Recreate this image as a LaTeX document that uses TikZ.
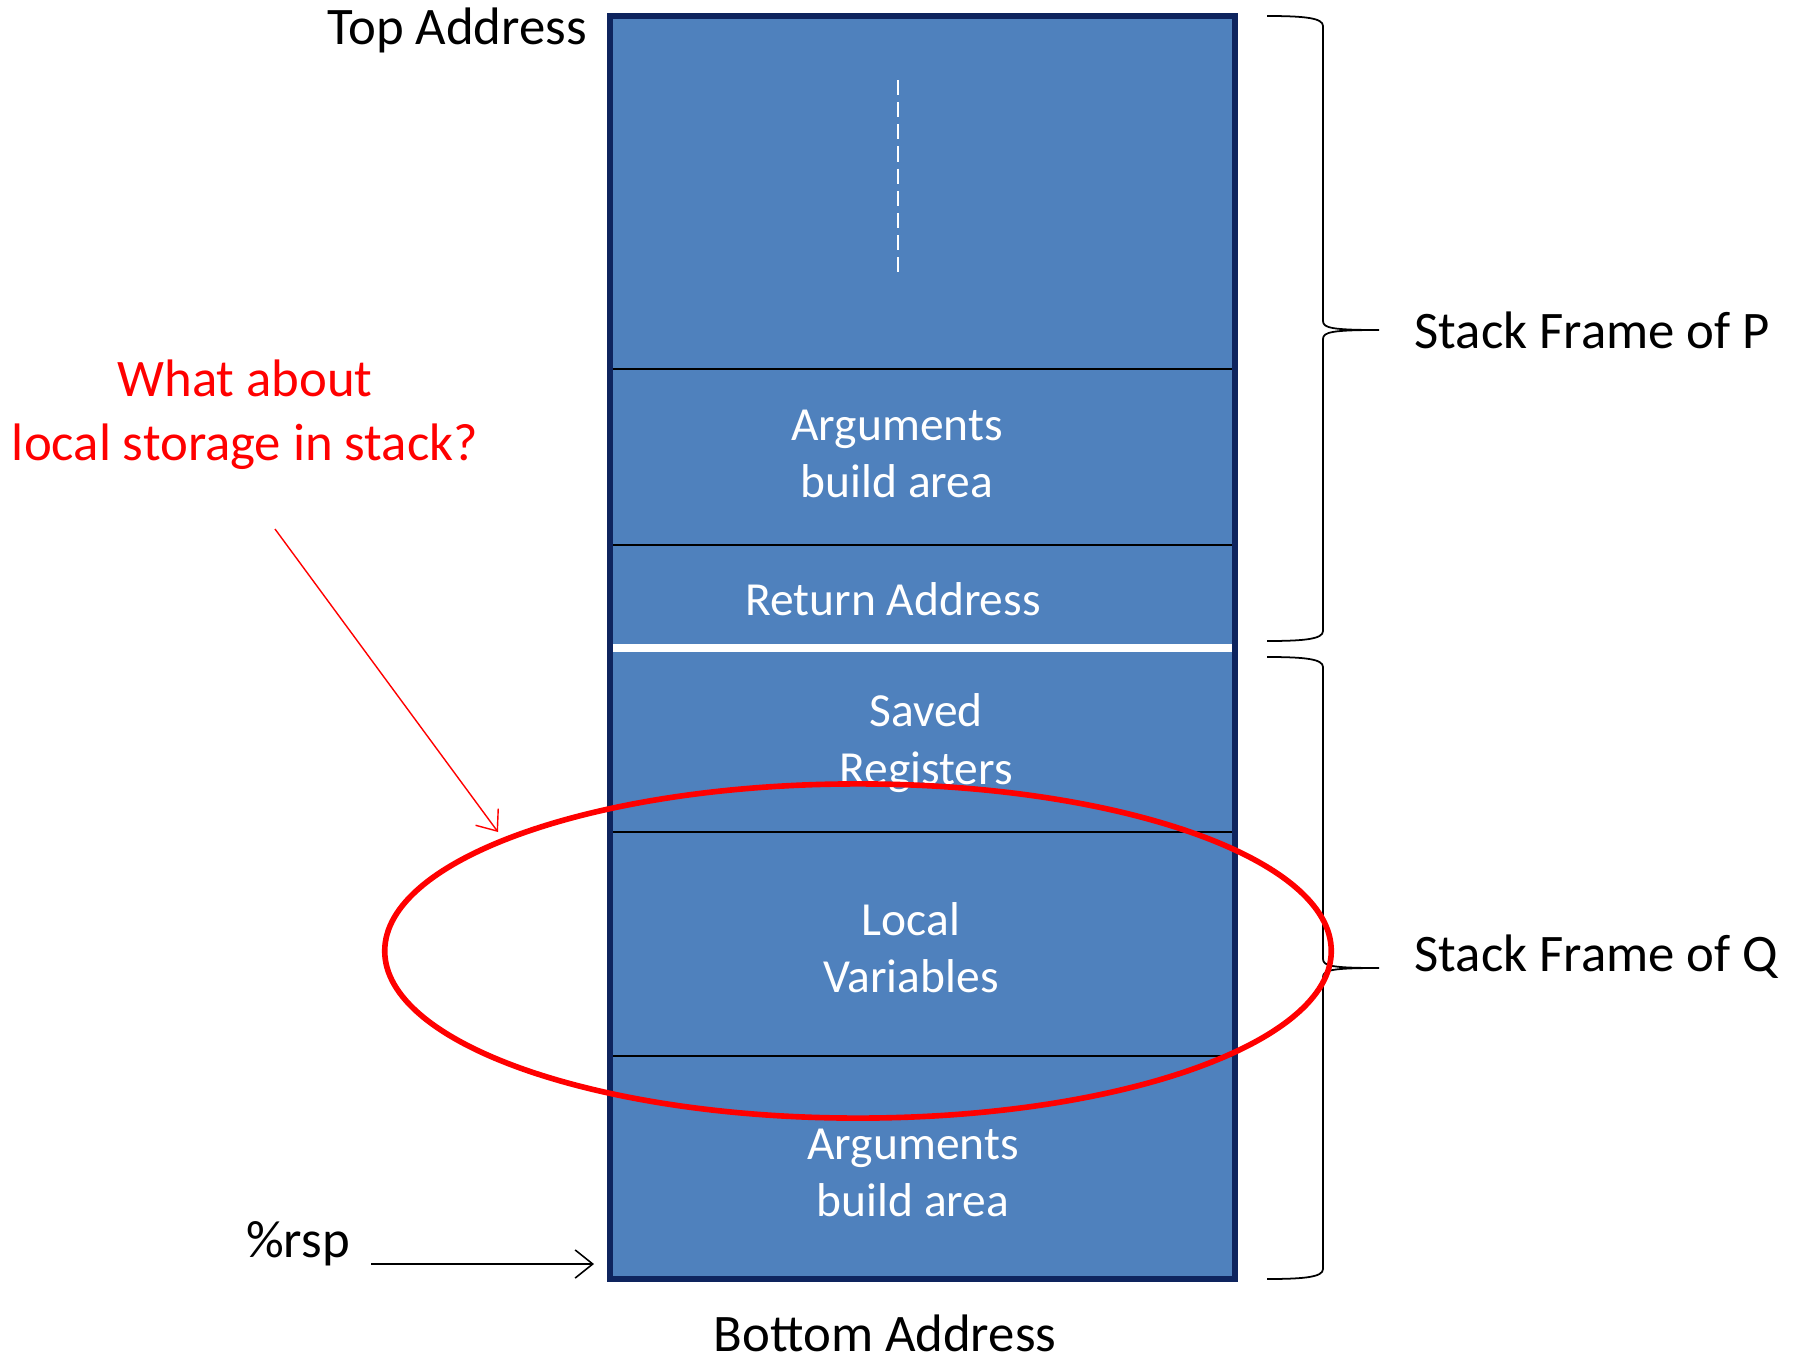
\documentclass[tikz,border=0pt]{standalone}
\usepackage{fontspec}
\setmainfont{Carlito}
\usetikzlibrary{arrows.meta}
\definecolor{slotblue}{RGB}{79,129,189}
\definecolor{slotedge}{RGB}{14,36,94}
\newcommand\FrameBrace[3]{%
    \draw[line width=0.5pt] (1267,#1) .. controls (1305,#1) and (1323,#1+2) .. (1323,#1+10)
        -- (1323,#2-9) .. controls (1323,#2-2) and (1332,#2) .. (1379,#2)
        .. controls (1332,#2) and (1323,#2+2) .. (1323,#2+9)
        -- (1323,#3-10) .. controls (1323,#3-2) and (1305,#3) .. (1267,#3);
}

\begin{document}
\begin{tikzpicture}[x=0.01cm,y=-0.01cm,
    >={Straight Barb[length=5pt,width=8pt]},
    slot/.style={text=white,font=\fontsize{13.5}{16.3}\selectfont,align=center},
    note/.style={font=\fontsize{15}{18.2}\selectfont},
    divider/.style={line width=0.6pt}]
    \useasboundingbox (0,0) rectangle (1802,1360);
    % the stack
    \fill[slotblue] (610,16) rectangle (1235,1279);
    \foreach \y in {369,545,832,1056}
        \draw[divider] (610,\y) -- (1235,\y);
    \draw[white,line width=2.2pt] (610,648) -- (1235,648);
    \draw[white,line width=0.55pt,dash pattern=on 4.3pt off 2pt] (898,80) -- (898,273);
    \draw[slotedge,line width=1.7pt] (610,16) rectangle (1235,1279);
    \node[slot] (argsp) at (897,454) {Arguments\\build area};
    \node[slot] (retaddr) at (893,599) {Return Address};
    \node[slot] (savedreg) at (926,743) {Saved\\Registers};
    \node[slot] (localvar) at (911,948) {Local\\Variables};
    \node[slot] (argsq) at (913,1173) {Arguments\\build area};
    % labels round it
    \node[note] (topaddr) at (457,30) {Top Address};
    \node[note,inner sep=1pt] (botaddr) at (885,1333) {Bottom Address};
    \node[note] (rsp) at (298,1244) {\%rsp};
    \coordinate (rspfrom) at (371,1264);
    \coordinate (rspto) at (594,1264);
    \draw[->,line width=0.45pt] (rspfrom) -- (rspto);
    \FrameBrace{16}{330}{641}
    \FrameBrace{657}{968}{1279}
    \node[note,anchor=base west,inner sep=0pt] (framep) at (1414,348) {Stack Frame of P};
    \node[note,anchor=base west,inner sep=0pt] (frameq) at (1414,971) {Stack Frame of Q};
    % the question
    \begin{scope}[color=red]
        \node[note,text=red,align=center] (question) at (245,415) {What about\\local storage in stack?};
        \coordinate (askfrom) at (275,529);
        \coordinate (askto) at (498,832);
        \draw[->,line width=0.4pt] (askfrom) -- (askto);
        \draw[line width=1.6pt] (858,951) ellipse [x radius=4.73cm, y radius=1.67cm];
    \end{scope}
\end{tikzpicture}
\end{document}
